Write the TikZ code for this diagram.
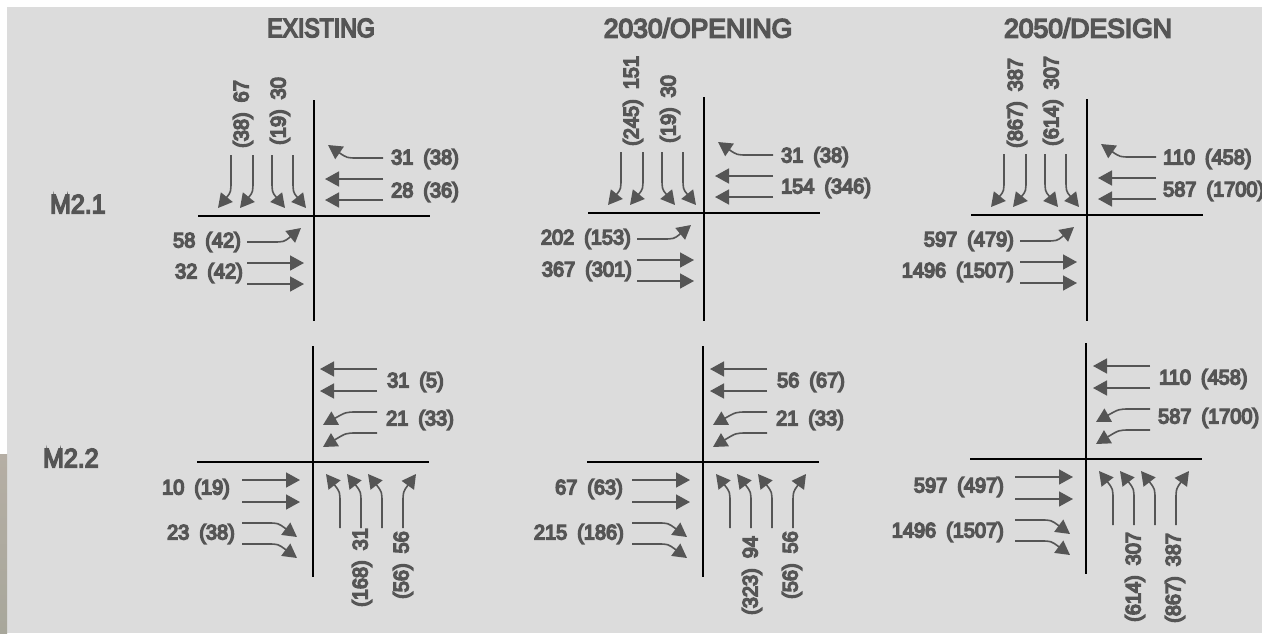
\documentclass[tikz,border=0pt]{standalone}
\usepackage{fontspec}
\usetikzlibrary{arrows.meta}
\setmainfont{Liberation Sans}
\newfontfamily\lblfont[WordSpace=1.8,FakeStretch=0.95,FakeBold=7]{Liberation Sans}
\newfontfamily\ttlfont[FakeBold=6]{Liberation Sans}
\newfontfamily\ttlmid[FakeStretch=0.94,FakeBold=6]{Liberation Sans}
\newfontfamily\ttlnarrow[FakeStretch=0.87,FakeBold=6]{Liberation Sans}
\definecolor{panel}{HTML}{DCDCDC}
\definecolor{ink}{HTML}{555555}
\definecolor{stonetop}{HTML}{B5AEA4}
\definecolor{stonebot}{HTML}{A8A79B}
\tikzset{
  road/.style={draw=black,line width=1.6pt},
  flow/.style={draw=ink,line width=1.6pt,-{Triangle[length=14pt,width=15pt]}},
  lbl/.style={text=ink,inner sep=0pt,font=\lblfont\fontsize{21}{21}\selectfont},
  vlbl/.style={lbl,rotate=90,anchor=west},
  ttl/.style={text=ink,inner sep=0pt,font=\ttlfont\fontsize{26.5}{26.5}\selectfont},
  ttlm/.style={text=ink,inner sep=0pt,font=\ttlmid\fontsize{26.5}{26.5}\selectfont},
  ttln/.style={text=ink,inner sep=0pt,font=\ttlnarrow\fontsize{26.5}{26.5}\selectfont}
}
% straight arrow: id, start, tip
\newcommand{\sflow}[3]{%
  \coordinate (#1s) at (#2); \coordinate (#1t) at (#3);
  \draw[flow] (#1s) -- (#1t);}
% bent arrow: id, start, bend, control, tip
\newcommand{\bflow}[5]{%
  \coordinate (#1s) at (#2); \coordinate (#1m) at (#3);
  \coordinate (#1c) at (#4); \coordinate (#1t) at (#5);
  \draw[flow] (#1s) -- (#1m) .. controls (#1c) .. (#1t);}
\newcommand{\roads}[2]{%
  \coordinate (#1n) at (0,-116); \coordinate (#1z) at (0,#2);
  \coordinate (#1w) at (-116,0); \coordinate (#1e) at (116,0);
  \draw[road] (#1n) -- (#1z);
  \draw[road] (#1w) -- (#1e);}
% upper junction: id, x, y, south end of the vertical road
\newcommand{\upperjunction}[4]{%
  \begin{scope}[shift={(#2,#3)}]
    \roads{#1}{#4}
    \bflow{#1a}{-83,-61}{-83,-36}{-83,-24}{-96,-8}
    \bflow{#1b}{-61,-61}{-61,-36}{-61,-24}{-74,-8}
    \bflow{#1d}{-42,-61}{-42,-36}{-42,-24}{-29,-8}
    \bflow{#1f}{-21,-61}{-21,-36}{-21,-24}{-8,-8}
    \bflow{#1g}{69,-58}{44,-58}{33,-58}{14,-71}
    \sflow{#1h}{69,-37}{11,-37}
    \sflow{#1i}{69,-16}{11,-16}
    \bflow{#1j}{-67,26}{-42,26}{-30,26}{-13,12}
    \sflow{#1k}{-67,47}{-10,47}
    \sflow{#1l}{-67,68}{-10,68}
  \end{scope}}
% lower junction: id, x, y
\newcommand{\lowerjunction}[3]{%
  \begin{scope}[shift={(#2,#3)}]
    \roads{#1}{115}
    \sflow{#1a}{64,-93}{7,-93}
    \sflow{#1b}{64,-71}{7,-71}
    \bflow{#1d}{64,-50}{44,-50}{33,-50}{10,-37}
    \bflow{#1f}{64,-29}{44,-29}{33,-29}{10,-15}
    \sflow{#1g}{-71,18}{-13,18}
    \sflow{#1h}{-71,40}{-13,40}
    \bflow{#1i}{-71,61}{-45,61}{-35,61}{-16,75}
    \bflow{#1j}{-71,82}{-45,82}{-35,82}{-16,96}
    \bflow{#1k}{27,66}{27,41}{27,30}{13,12}
    \bflow{#1l}{48,66}{48,41}{48,30}{34,12}
    \bflow{#1o}{69,66}{69,41}{69,30}{55,12}
    \bflow{#1p}{90,66}{90,41}{90,30}{103,12}
  \end{scope}}
\begin{document}
\begin{tikzpicture}[x=1pt,y=-1pt]
\useasboundingbox (0,0) rectangle (1262,633);
\fill[white] (0,0) rectangle (1262,633);
\fill[panel] (7,7) rectangle (1262,633);
\shade[top color=stonetop,bottom color=stonebot] (0,454) rectangle (7,633);

\node[ttln] (t1) at (321,28) {EXISTING};
\node[ttl] (t2) at (698,28) {2030/OPENING};
\node[ttl] (t3) at (1088,28) {2050/DESIGN};
\node[ttlm,anchor=west] (r1) at (50,204) {M2.1};
\node[ttlm,anchor=west] (r2) at (43,458) {M2.2};

\upperjunction{pa}{314}{216}{105}
\upperjunction{pb}{704}{213}{108}
\upperjunction{pc}{1087}{215}{106}
\lowerjunction{qa}{313}{462}
\lowerjunction{qb}{703}{462}
\lowerjunction{qc}{1086}{459}

% M2.1 existing
\node[vlbl] (a1) at (243,148) {(38) 67};
\node[vlbl] (a2) at (280,145) {(19) 30};
\node[lbl,anchor=west] (a3) at (391,159) {31 (38)};
\node[lbl,anchor=west] (a4) at (391,192) {28 (36)};
\node[lbl,anchor=east] (a5) at (241,242) {58 (42)};
\node[lbl,anchor=east] (a6) at (243,273) {32 (42)};
% M2.1 2030
\node[vlbl] (b1) at (633,146) {(245) 151};
\node[vlbl] (b2) at (670,143) {(19) 30};
\node[lbl,anchor=west] (b3) at (781,157) {31 (38)};
\node[lbl,anchor=west] (b4) at (781,188) {154 (346)};
\node[lbl,anchor=east] (b5) at (631,239) {202 (153)};
\node[lbl,anchor=east] (b6) at (632,271) {367 (301)};
% M2.1 2050
\node[vlbl] (c1) at (1017,148) {(867) 387};
\node[vlbl] (c2) at (1053,146) {(614) 307};
\node[lbl,anchor=west] (c3) at (1163,159) {110 (458)};
\node[lbl,anchor=west] (c4) at (1163,191) {587 (1700)};
\node[lbl,anchor=east] (c5) at (1014,241) {597 (479)};
\node[lbl,anchor=east] (c6) at (1014,272) {1496 (1507)};
% M2.2 existing
\node[lbl,anchor=west] (d1) at (387,382) {31 (5)};
\node[lbl,anchor=west] (d2) at (386,420) {21 (33)};
\node[lbl,anchor=east] (d3) at (230,489) {10 (19)};
\node[lbl,anchor=east] (d4) at (235,534) {23 (38)};
\node[vlbl] (d5) at (362,607) {(168) 31};
\node[vlbl] (d6) at (403,599) {(56) 56};
% M2.2 2030
\node[lbl,anchor=west] (e1) at (777,382) {56 (67)};
\node[lbl,anchor=west] (e2) at (776,420) {21 (33)};
\node[lbl,anchor=east] (e3) at (623,489) {67 (63)};
\node[lbl,anchor=east] (e4) at (624,534) {215 (186)};
\node[vlbl] (e5) at (752,615) {(323) 94};
\node[vlbl] (e6) at (792,599) {(56) 56};
% M2.2 2050
\node[lbl,anchor=west] (f1) at (1159,379) {110 (458)};
\node[lbl,anchor=west] (f2) at (1158,418) {587 (1700)};
\node[lbl,anchor=east] (f3) at (1004,487) {597 (497)};
\node[lbl,anchor=east] (f4) at (1004,532) {1496 (1507)};
\node[vlbl] (f5) at (1135,622) {(614) 307};
\node[vlbl] (f6) at (1175,623) {(867) 387};
\end{tikzpicture}
\end{document}
